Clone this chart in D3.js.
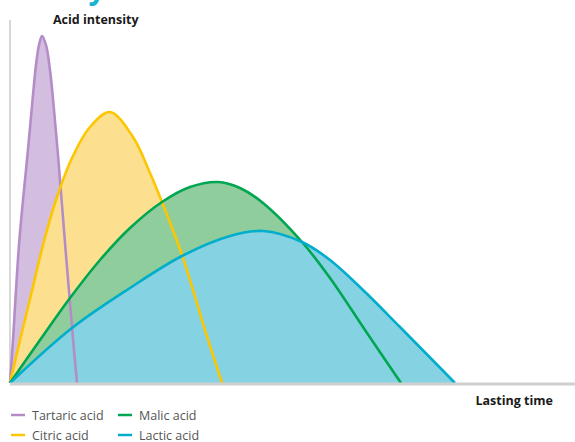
<!DOCTYPE html>
<html>
<head>
<meta charset="utf-8">
<script src="https://cdn.jsdelivr.net/npm/d3@7"></script>
<style>
    body { margin: 0; background: #ffffff; }
    svg { display: block; font-family: "Open Sans", sans-serif; }
</style>
</head>
<body>
<div id="chart"></div>
<script>
// time / intensity pairs
const tartaricTime = [0, 0.6, 1.2, 1.8, 2.6, 3.4, 4, 4.6, 5.2, 5.8, 6.4, 7.2, 8, 8.8, 9.6, 10.4, 11.2, 12, 12.8, 13.4];
const tartaricValue = [0, 8.6, 18.6, 27.6, 36.6, 44.6, 51, 57.6, 63.6, 67.6, 69.4, 67.6, 62.6, 54.6, 45.6, 35.6, 25.6, 16, 6.6, 0];

const citricTime = [0, 2, 4.2, 6.6, 9.2, 12.4, 16, 20, 24.6, 28, 30.4, 34.4, 36.6, 39, 42.4];
const citricValue = [0, 8.6, 17.6, 27.6, 36.6, 45, 51.2, 54.2, 49.2, 42, 36.2, 25.6, 18.6, 10.6, 0];

const malicTime = [0, 6, 12, 18, 24, 30.4, 36, 41.6, 46, 50.6, 58.4, 64, 71, 78.2];
const malicValue = [0, 8.6, 17, 24.6, 31, 36.2, 39.2, 40.2, 39, 36, 28.2, 21, 10.6, 0];

const lacticTime = [0, 12.4, 24, 34.4, 44, 50.6, 58.4, 64, 70.6, 78, 89];
const lacticValue = [0, 11, 19, 25.4, 29.4, 30.4, 28.2, 24.6, 18.6, 11.2, 0];

const seriesNames = ['Tartaric acid', 'Citric acid', 'Malic acid', 'Lactic acid'];

const colors = {
    stroke: ['#b48cc8', '#fcc600', '#00a651', '#00aecb'],
    fill: ['#d4bee0', '#fde08f', '#8fce9c', '#85d2e2'],
};

const createChart = function (rootSelector) {
    const width = 575;
    const height = 442;

    const series = [
        {name: seriesNames[0], time: tartaricTime, value: tartaricValue},
        {name: seriesNames[1], time: citricTime, value: citricValue},
        {name: seriesNames[2], time: malicTime, value: malicValue},
        {name: seriesNames[3], time: lacticTime, value: lacticValue},
    ];

    const svg = d3.select(rootSelector).append('svg')
        .attr('width', width)
        .attr('height', height);

    const x = d3.scaleLinear().domain([0, 113]).range([10, 575]);
    const y = d3.scaleLinear().domain([0, 72]).range([383, 23]);

    const points = function (s) {
        return s.time.map(function (t, i) {
            return [t, s.value[i]];
        });
    };

    const curve = d3.curveCatmullRom.alpha(0.5);

    const area = d3.area()
        .x(function (d) { return x(d[0]); })
        .y0(y(0))
        .y1(function (d) { return y(d[1]); })
        .curve(curve);

    const line = d3.line()
        .x(function (d) { return x(d[0]); })
        .y(function (d) { return y(d[1]); })
        .curve(curve);

    // title, cut off at the top edge as in the original page
    svg.append('text')
        .attr('x', 2)
        .attr('y', -1)
        .attr('fill', '#1ab4cf')
        .style('font-size', '30px')
        .style('font-weight', 'bold')
        .text('Acidity');

    // axes
    svg.append('line')
        .attr('x1', x(0)).attr('x2', x(0))
        .attr('y1', 20).attr('y2', y(0))
        .attr('stroke', '#bdbdbd')
        .attr('stroke-width', 1.2);

    // fills
    svg.selectAll('path.area')
        .data(series)
        .enter()
        .append('path')
        .attr('class', 'area')
        .attr('d', function (s) { return area(points(s)); })
        .attr('fill', function (s, i) { return colors.fill[i]; });

    // outlines
    svg.selectAll('path.line')
        .data(series)
        .enter()
        .append('path')
        .attr('class', 'line')
        .attr('d', function (s) { return line(points(s)); })
        .attr('fill', 'none')
        .attr('stroke', function (s, i) { return colors.stroke[i]; })
        .attr('stroke-width', 2.6);

    svg.append('line')
        .attr('x1', x(0)).attr('x2', width)
        .attr('y1', y(0) + 1).attr('y2', y(0) + 1)
        .attr('stroke', '#d0d0d0')
        .attr('stroke-width', 3);

    svg.append('text')
        .attr('x', 53)
        .attr('y', 24)
        .attr('fill', '#1a1a1a')
        .style('font-size', '12.5px')
        .style('font-weight', 'bold')
        .text('Acid intensity');

    svg.append('text')
        .attr('x', 553)
        .attr('y', 405)
        .attr('text-anchor', 'end')
        .attr('fill', '#1a1a1a')
        .style('font-size', '12.5px')
        .style('font-weight', 'bold')
        .text('Lasting time');

    // legend, two columns
    const legend = svg.selectAll('g.legend')
        .data(series)
        .enter()
        .append('g')
        .attr('class', 'legend')
        .attr('transform', function (s, i) {
            return 'translate(' + (i < 2 ? 11 : 118) + ',' + (i % 2 === 0 ? 415 : 435) + ')';
        });

    legend.append('line')
        .attr('x1', 0).attr('x2', 14)
        .attr('y1', 0).attr('y2', 0)
        .attr('stroke', function (s, i) { return colors.stroke[i]; })
        .attr('stroke-width', 2.5);

    legend.append('text')
        .attr('x', 21)
        .attr('y', 4.5)
        .attr('fill', '#555555')
        .style('font-size', '12.5px')
        .text(function (s) { return s.name; });
};

createChart('#chart');
</script>
</body>
</html>
